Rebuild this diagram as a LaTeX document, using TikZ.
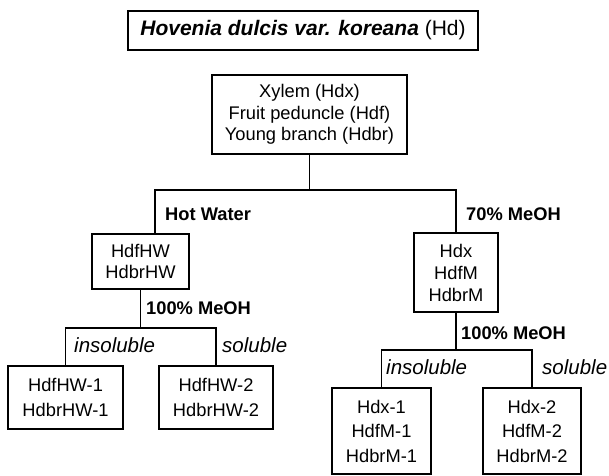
\documentclass[tikz,border=0pt]{standalone}
\usepackage{fontspec}
\setmainfont{Liberation Sans}
\usepackage{tikz}
\usetikzlibrary{positioning}
\tikzset{node distance=150.5pt, auto,
  box/.style={draw, line width=1.5pt, align=center, inner sep=0pt,
    font=\fontsize{18.3}{21.7}\selectfont},
  tallbox/.style={box, font=\fontsize{18.3}{24.5}\selectfont},
  solvent/.style={anchor=west, inner sep=0pt, font=\fontsize{18.3}{22}\selectfont\bfseries},
  fraction/.style={anchor=west, inner sep=0pt, font=\fontsize{20.5}{24}\selectfont\itshape},
  link/.style={line width=1.5pt}}

\begin{document}
\begin{tikzpicture}[x=1pt, y=-1pt]

           \useasboundingbox (0,0) rectangle (609,475);

           \node[box, minimum width=350pt, minimum height=39pt,
             font=\fontsize{21}{24}\selectfont] (title) at (303,30.5)
             {{\bfseries\itshape Hovenia dulcis var. koreana} (Hd)};
           \node[box, minimum width=195pt, minimum height=79pt] (src) at (309.5,114.5)
             {Xylem (Hdx)\\Fruit peduncle (Hdf)\\Young branch (Hdbr)};
           \node[box, minimum width=97pt, minimum height=55pt] (hw) at (140.5,261.5)
             {HdfHW\\HdbrHW};
           \node[box, minimum width=84pt, minimum height=79pt, font=\fontsize{18.3}{22}\selectfont]
             (me) at (456,272.5) {Hdx\\HdfM\\HdbrM};
           \node[tallbox, minimum width=115pt, minimum height=63pt] (hw1) at (65.5,397.5)
             {HdfHW-1\\HdbrHW-1};
           \node[tallbox, minimum width=114pt, minimum height=63pt] (hw2) [right of=hw1]
             {HdfHW-2\\HdbrHW-2};
           \node[tallbox, minimum width=99pt, minimum height=86pt] (me1) at (381.5,431)
             {Hdx-1\\HdfM-1\\HdbrM-1};
           \node[tallbox, minimum width=98pt, minimum height=86pt] (me2) [right of=me1]
             {Hdx-2\\HdfM-2\\HdbrM-2};

           \coordinate (split) at (155,190);
           \coordinate (hwsplit) at (0,328);
           \coordinate (mesplit) at (0,350);

           \draw[link] (src.south) -- (src.south |- split);
           \draw[link] (hw.north -| split) -- (split) -| (me.north);
           \draw[link] (hw.south) -- (hw.south |- hwsplit);
           \draw[link] (hw1.north) |- (hw.south |- hwsplit) -| (hw2.north);
           \draw[link] (me.south) -- (me.south |- mesplit);
           \draw[link] (me1.north) |- (me.south |- mesplit) -| (me2.north);

           \node[solvent] (hot) at (165,214) {Hot Water};
           \node[solvent] (meoh) at (466,214) {70\% MeOH};
           \node[solvent] (hwmeoh) at (146,308) {100\% MeOH};
           \node[solvent] (memeoh) at (461,333) {100\% MeOH};
           \node[fraction] (hwinsol) at (74,345) {insoluble};
           \node[fraction] (hwsol) at (222,345) {soluble};
           \node[fraction] (meinsol) at (386,367) {insoluble};
           \node[fraction] (mesol) at (542,367) {soluble};

         \end{tikzpicture}
\end{document}
